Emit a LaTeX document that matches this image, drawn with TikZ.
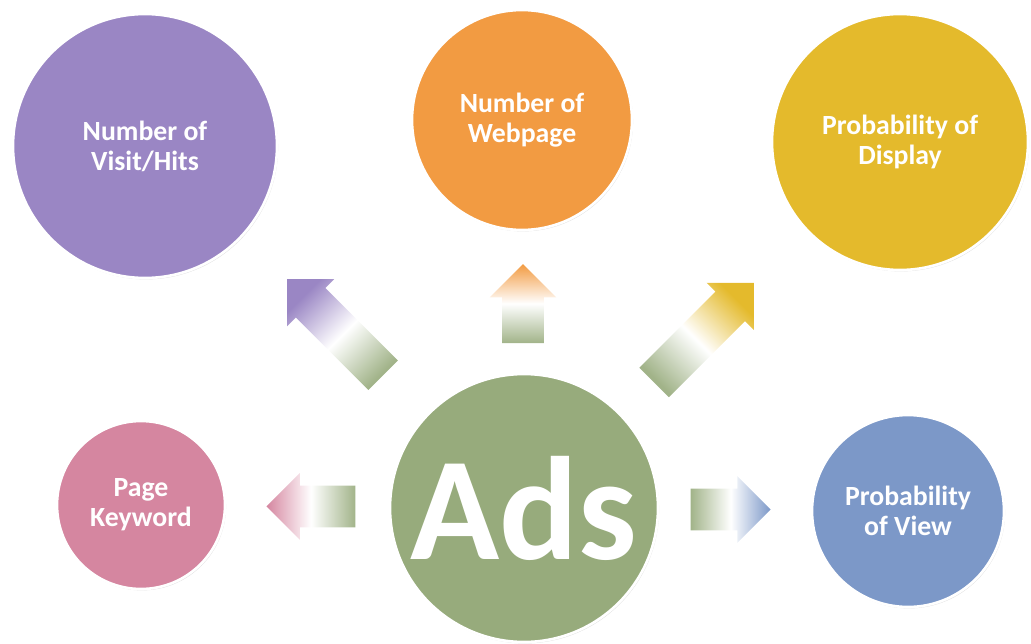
\documentclass[tikz,border=0pt]{standalone}
\usepackage{fontspec}
\setmainfont{Carlito}
\usetikzlibrary{calc,shapes.arrows,shadows}
\definecolor{visitpurple}{RGB}{154,134,196}
\definecolor{pageorange}{RGB}{242,155,66}
\definecolor{displayyellow}{RGB}{228,186,44}
\definecolor{keypink}{RGB}{213,134,160}
\definecolor{adsgreen}{RGB}{151,171,124}
\definecolor{viewblue}{RGB}{124,152,200}
\tikzset{
  bubble/.style={circle,draw=white,line width=1.5pt,text=white,align=center,inner sep=0pt,
    font=\bfseries\fontsize{15.8}{17}\selectfont,
    drop shadow={opacity=0.25,shadow xshift=0.6pt,shadow yshift=-0.8pt}},
  blockarrow/.style n args={3}{single arrow,draw=none,inner sep=0.41cm,minimum height=#1,
    single arrow head extend=0.25cm,rotate=#3,
    bottom color=adsgreen!90,top color=#2,middle color=white,shading angle=#3-90}
}
\begin{document}
\begin{tikzpicture}
\useasboundingbox (0,0) rectangle (20.62,12.86);
\node[bubble,fill=visitpurple,minimum size=5.28cm](visit) at (2.90,9.94){Number of\\Visit/Hits};
\node[bubble,fill=pageorange,minimum size=4.4cm](webpage) at (10.44,10.46){Number of\\Webpage};
\node[bubble,fill=displayyellow,minimum size=5.12cm](display) at (18.00,10.02){Probability of\\Display};
\node[bubble,fill=keypink,minimum size=3.36cm](key) at (2.82,2.76){Page\\Keyword};
\node[bubble,fill=viewblue,minimum size=3.84cm](view) at (18.16,2.64){Probability\\of View};
\node[bubble,fill=adsgreen,minimum size=5.36cm,font=\bfseries\fontsize{83.7}{84}\selectfont](ads) at (10.48,2.70){Ads};

\node[blockarrow={2.72cm}{visitpurple}{135}](avisit) at ($(ads)!0.479!(visit)$){};
\node[blockarrow={1.58cm}{pageorange}{90}](awebpage) at ($(ads)!0.50!(webpage)$){};
\node[blockarrow={2.82cm}{displayyellow}{45}](adisplay) at ($(ads)!0.459!(display)$){};
\node[blockarrow={1.78cm}{keypink}{180}](akey) at ($(ads)!0.529!(key)$){};
\node[blockarrow={1.6cm}{viewblue}{0}](aview) at ($(ads)!0.511!(view)$){};
\end{tikzpicture}
\end{document}
